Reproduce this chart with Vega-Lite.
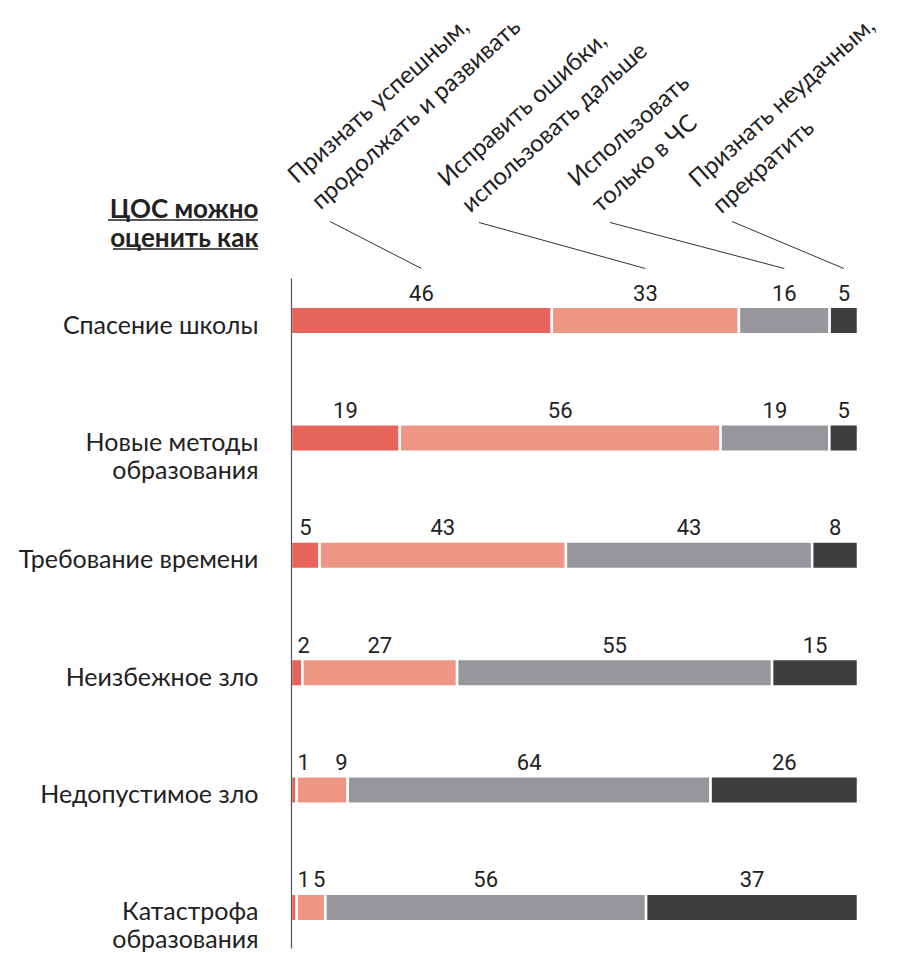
{
  "$schema": "https://vega.github.io/schema/vega-lite/v6.json",
  "width": 567,
  "height": 670,
  "autosize": {"type": "none"},
  "padding": {"left": 291, "top": 278, "right": 47, "bottom": 5},
  "background": "white",
  "config": {"view": {"stroke": null}},
  "data": {
    "values": [
      {"cat": "Спасение школы", "seg": "Признать успешным, продолжать и развивать", "k": 1, "v": 46},
      {"cat": "Спасение школы", "seg": "Исправить ошибки, использовать дальше", "k": 2, "v": 33},
      {"cat": "Спасение школы", "seg": "Использовать только в ЧС", "k": 3, "v": 16},
      {"cat": "Спасение школы", "seg": "Признать неудачным, прекратить", "k": 4, "v": 5},
      {"cat": "Новые методы образования", "seg": "Признать успешным, продолжать и развивать", "k": 1, "v": 19},
      {"cat": "Новые методы образования", "seg": "Исправить ошибки, использовать дальше", "k": 2, "v": 56},
      {"cat": "Новые методы образования", "seg": "Использовать только в ЧС", "k": 3, "v": 19},
      {"cat": "Новые методы образования", "seg": "Признать неудачным, прекратить", "k": 4, "v": 5},
      {"cat": "Требование времени", "seg": "Признать успешным, продолжать и развивать", "k": 1, "v": 5},
      {"cat": "Требование времени", "seg": "Исправить ошибки, использовать дальше", "k": 2, "v": 43},
      {"cat": "Требование времени", "seg": "Использовать только в ЧС", "k": 3, "v": 43},
      {"cat": "Требование времени", "seg": "Признать неудачным, прекратить", "k": 4, "v": 8},
      {"cat": "Неизбежное зло", "seg": "Признать успешным, продолжать и развивать", "k": 1, "v": 2},
      {"cat": "Неизбежное зло", "seg": "Исправить ошибки, использовать дальше", "k": 2, "v": 27},
      {"cat": "Неизбежное зло", "seg": "Использовать только в ЧС", "k": 3, "v": 55},
      {"cat": "Неизбежное зло", "seg": "Признать неудачным, прекратить", "k": 4, "v": 15},
      {"cat": "Недопустимое зло", "seg": "Признать успешным, продолжать и развивать", "k": 1, "v": 1},
      {"cat": "Недопустимое зло", "seg": "Исправить ошибки, использовать дальше", "k": 2, "v": 9},
      {"cat": "Недопустимое зло", "seg": "Использовать только в ЧС", "k": 3, "v": 64},
      {"cat": "Недопустимое зло", "seg": "Признать неудачным, прекратить", "k": 4, "v": 26},
      {"cat": "Катастрофа образования", "seg": "Признать успешным, продолжать и развивать", "k": 1, "v": 1},
      {"cat": "Катастрофа образования", "seg": "Исправить ошибки, использовать дальше", "k": 2, "v": 5},
      {"cat": "Катастрофа образования", "seg": "Использовать только в ЧС", "k": 3, "v": 56},
      {"cat": "Катастрофа образования", "seg": "Признать неудачным, прекратить", "k": 4, "v": 37}
    ]
  },
  "transform": [
    {"stack": "v", "groupby": ["cat"], "sort": [{"field": "k", "order": "ascending"}], "offset": "normalize", "as": ["s0", "s1"]},
    {"fold": ["s0", "s1"]},
    {"aggregate": [
      {"op": "min", "field": "value", "as": "x0"},
      {"op": "max", "field": "value", "as": "x1"},
      {"op": "mean", "field": "value", "as": "mid"}
    ], "groupby": ["cat", "seg", "k", "v"]}
  ],
  "encoding": {
    "y": {
      "field": "cat",
      "type": "nominal",
      "sort": ["Спасение школы", "Новые методы образования", "Требование времени", "Неизбежное зло", "Недопустимое зло", "Катастрофа образования"],
      "scale": {
        "type": "band",
        "domain": ["Спасение школы", "Новые методы образования", "Требование времени", "Неизбежное зло", "Недопустимое зло", "Катастрофа образования"],
        "paddingInner": 0.766,
        "paddingOuter": 0.2365,
        "align": 0.518
      },
      "axis": {
        "title": ["ЦОС можно", "оценить как"],
        "titleAngle": 0,
        "titleAlign": "right",
        "titleBaseline": "alphabetic",
        "titleX": -33,
        "titleY": -61,
        "titleFont": "Lato",
        "titleFontSize": 26,
        "titleFontWeight": "bold",
        "titleColor": "#222222",
        "titleLineHeight": 29,
        "ticks": false,
        "domain": true,
        "domainColor": "#555555",
        "domainWidth": 1.2,
        "zindex": 1,
        "labelFont": "Lato",
        "labelFontSize": 25,
        "labelColor": "#222222",
        "labelPadding": 33,
        "labelAlign": "right",
        "labelBaseline": "alphabetic",
        "labelOffset": 13,
        "labelLineHeight": 28,
        "labelLimit": 0,
        "labelExpr": "datum.value == 'Новые методы образования' ? ['Новые методы', 'образования'] : datum.value == 'Катастрофа образования' ? ['Катастрофа', 'образования'] : datum.value"
      }
    }
  },
  "layer": [
    {
      "mark": {"type": "bar", "stroke": "white", "strokeWidth": 2.5},
      "encoding": {
        "x": {"field": "x0", "type": "quantitative", "scale": {"domain": [0, 1], "nice": false, "zero": false}, "axis": null},
        "x2": {"field": "x1"},
        "color": {
          "field": "seg",
          "type": "nominal",
          "scale": {
            "domain": ["Признать успешным, продолжать и развивать", "Исправить ошибки, использовать дальше", "Использовать только в ЧС", "Признать неудачным, прекратить"],
            "range": ["#e6645a", "#ec9683", "#97979b", "#3e3e3e"]
          },
          "legend": null
        }
      }
    },
    {
      "transform": [{"filter": "datum.k == 1 && datum.v <= 2"}],
      "mark": {"type": "text", "font": "Roboto", "fontSize": 22, "color": "#222222", "baseline": "alphabetic", "align": "left", "dy": -20, "dx": 6.5},
      "encoding": {
        "x": {"field": "x0", "type": "quantitative", "axis": null},
        "text": {"field": "v", "type": "quantitative"}
      }
    },
    {
      "transform": [{"filter": "datum.k == 2 && datum.v < 10"}],
      "mark": {"type": "text", "font": "Roboto", "fontSize": 22, "color": "#222222", "baseline": "alphabetic", "align": "right", "dy": -20},
      "encoding": {
        "x": {"field": "x1", "type": "quantitative", "axis": null},
        "text": {"field": "v", "type": "quantitative"}
      }
    },
    {
      "transform": [{"filter": "!((datum.k == 1 && datum.v <= 2) || (datum.k == 2 && datum.v < 10))"}],
      "mark": {"type": "text", "font": "Roboto", "fontSize": 22, "color": "#222222", "baseline": "alphabetic", "align": "center", "dy": -20},
      "encoding": {
        "x": {"field": "mid", "type": "quantitative", "axis": null},
        "text": {"field": "v", "type": "quantitative"}
      }
    },
    {
      "transform": [{"filter": "datum.cat == 'Спасение школы' && datum.k == 1"}],
      "mark": {"type": "text", "font": "Lato", "fontSize": 24, "color": "#222222", "angle": -42, "align": "left", "baseline": "alphabetic", "lineHeight": 35, "yOffset": -136},
      "encoding": {
        "x": {"datum": 0.0106, "type": "quantitative", "axis": null},
        "text": {"value": ["Признать успешным,", "продолжать и развивать"]}
      }
    },
    {
      "transform": [{"filter": "datum.cat == 'Спасение школы' && datum.k == 2"}],
      "mark": {"type": "text", "font": "Lato", "fontSize": 24, "color": "#222222", "angle": -42, "align": "left", "baseline": "alphabetic", "lineHeight": 35, "yOffset": -133},
      "encoding": {
        "x": {"datum": 0.2751, "type": "quantitative", "axis": null},
        "text": {"value": ["Исправить ошибки,", "использовать дальше"]}
      }
    },
    {
      "transform": [{"filter": "datum.cat == 'Спасение школы' && datum.k == 3"}],
      "mark": {"type": "text", "font": "Lato", "fontSize": 24, "color": "#222222", "angle": -42, "align": "left", "baseline": "alphabetic", "lineHeight": 35, "yOffset": -133},
      "encoding": {
        "x": {"datum": 0.5044, "type": "quantitative", "axis": null},
        "text": {"value": ["Использовать", "только в ЧС"]}
      }
    },
    {
      "transform": [{"filter": "datum.cat == 'Спасение школы' && datum.k == 4"}],
      "mark": {"type": "text", "font": "Lato", "fontSize": 24, "color": "#222222", "angle": -42, "align": "left", "baseline": "alphabetic", "lineHeight": 35, "yOffset": -132},
      "encoding": {
        "x": {"datum": 0.7178, "type": "quantitative", "axis": null},
        "text": {"value": ["Признать неудачным,", "прекратить"]}
      }
    },
    {
      "transform": [{"filter": "datum.cat == 'Спасение школы' && datum.k == 1"}],
      "mark": {"type": "rule", "color": "#333333", "strokeWidth": 1, "yOffset": -52, "y2Offset": -99},
      "encoding": {
        "x": {"field": "mid", "type": "quantitative", "axis": null},
        "x2": {"datum": 0.0688},
        "y2": {"field": "cat"}
      }
    },
    {
      "transform": [{"filter": "datum.cat == 'Спасение школы' && datum.k == 2"}],
      "mark": {"type": "rule", "color": "#333333", "strokeWidth": 1, "yOffset": -52, "y2Offset": -98},
      "encoding": {
        "x": {"field": "mid", "type": "quantitative", "axis": null},
        "x2": {"datum": 0.3316},
        "y2": {"field": "cat"}
      }
    },
    {
      "transform": [{"filter": "datum.cat == 'Спасение школы' && datum.k == 3"}],
      "mark": {"type": "rule", "color": "#333333", "strokeWidth": 1, "yOffset": -52, "y2Offset": -98},
      "encoding": {
        "x": {"field": "mid", "type": "quantitative", "axis": null},
        "x2": {"datum": 0.5626},
        "y2": {"field": "cat"}
      }
    },
    {
      "transform": [{"filter": "datum.cat == 'Спасение школы' && datum.k == 4"}],
      "mark": {"type": "rule", "color": "#333333", "strokeWidth": 1, "yOffset": -52, "y2Offset": -99},
      "encoding": {
        "x": {"field": "mid", "type": "quantitative", "axis": null},
        "x2": {"datum": 0.7778},
        "y2": {"field": "cat"}
      }
    },
    {
      "transform": [{"filter": "datum.cat == 'Спасение школы' && datum.k == 1"}],
      "mark": {"type": "rule", "color": "#222222", "strokeWidth": 1.5, "yOffset": -100.5},
      "encoding": {
        "x": {"datum": -0.3228, "type": "quantitative", "axis": null},
        "x2": {"datum": -0.0582}
      }
    },
    {
      "transform": [{"filter": "datum.cat == 'Спасение школы' && datum.k == 1"}],
      "mark": {"type": "rule", "color": "#222222", "strokeWidth": 1.5, "yOffset": -71.5},
      "encoding": {
        "x": {"datum": -0.3139, "type": "quantitative", "axis": null},
        "x2": {"datum": -0.0582}
      }
    }
  ]
}
